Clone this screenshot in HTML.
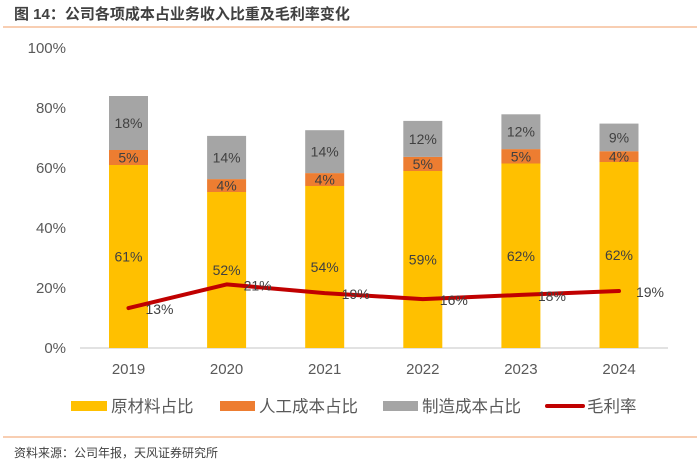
<!DOCTYPE html>
<html><head><meta charset="utf-8">
<style>
body{margin:0;background:#fff;width:700px;height:470px;overflow:hidden;font-family:"Liberation Sans","Noto Sans CJK SC",sans-serif;}
svg text{font-family:"Liberation Sans","Noto Sans CJK SC",sans-serif;}
</style></head>
<body>
<svg id="c" width="700" height="470" xmlns="http://www.w3.org/2000/svg">
<text x="14" y="19" font-size="15" font-weight="bold" fill="#404040">图 14：公司各项成本占业务收入比重及毛利率变化</text>
<line x1="3" y1="27" x2="697" y2="27" stroke="#f4b183" stroke-width="1.2"/>
<g id="plot"></g>
<g>
<rect x="71" y="401" width="36" height="10" fill="#ffc000"/>
<text x="111" y="412" font-size="16.5" fill="#595959">原材料占比</text>
<rect x="220" y="401" width="35" height="10" fill="#ed7d31"/>
<text x="259" y="412" font-size="16.5" fill="#595959">人工成本占比</text>
<rect x="383" y="401" width="35" height="10" fill="#a5a5a5"/>
<text x="422" y="412" font-size="16.5" fill="#595959">制造成本占比</text>
<line x1="547" y1="406" x2="583" y2="406" stroke="#c00000" stroke-width="4" stroke-linecap="round"/>
<text x="587" y="412" font-size="16.5" fill="#595959">毛利率</text>
</g>
<line x1="3" y1="437" x2="697" y2="437" stroke="#f4b183" stroke-width="1.2"/>
<text x="14" y="457" font-size="12" fill="#404040">资料来源：公司年报，天风证券研究所</text>
</svg>
<script>
const years=["2019","2020","2021","2022","2023","2024"];
const rawMat=[61,52,54,59,61.5,62];
const labor=[5,4.3,4.3,4.7,4.8,3.6];
const mfg=[18,14.4,14.3,12,11.6,9.2];
const margin=[13.3,21.2,18.3,16.3,17.7,19];
const rawLbl=["61%","52%","54%","59%","62%","62%"];
const laborLbl=["5%","4%","4%","5%","5%","4%"];
const mfgLbl=["18%","14%","14%","12%","12%","9%"];
const marginLbl=["13%","21%","19%","16%","18%","19%"];
const yTicks=[0,20,40,60,80,100];

const NS="http://www.w3.org/2000/svg";
const g=document.getElementById('plot');
const y0=348,yScale=3,x0=128.5,step=98.1,bw=39;
const Y=v=>y0-v*yScale, X=i=>x0+i*step;
function mk(t,a){const e=document.createElementNS(NS,t);for(const k in a)e.setAttribute(k,a[k]);g.appendChild(e);return e;}
yTicks.forEach(v=>{
 const t=mk('text',{x:66,y:Y(v)+5,'font-size':15,fill:'#595959','text-anchor':'end'});
 t.textContent=v+'%';
 
 
});
const ax=mk('line',{x1:80,y1:y0,x2:668,y2:y0,stroke:'#d9d9d9','stroke-width':1.5});


years.forEach((yr,i)=>{
 const cx=X(i);
 const segs=[[rawMat[i],'#ffc000',rawLbl[i],'bar-raw'],[labor[i],'#ed7d31',laborLbl[i],'bar-labor'],[mfg[i],'#a5a5a5',mfgLbl[i],'bar-mfg']];
 let base=0;
 segs.forEach(s=>{
  const top=base+s[0];
  const r=mk('rect',{x:cx-bw/2,y:Y(top),width:bw,height:Y(base)-Y(top),fill:s[1]});
  
  
  base=top;
 });
 base=0;
 segs.forEach(s=>{
  const mid=base+s[0]/2;base+=s[0];
  const t=mk('text',{x:cx,y:Y(mid)+5,'font-size':14,fill:'#404040','text-anchor':'middle'});
  t.textContent=s[2];
  
  
 });
 const xl=mk('text',{x:cx,y:374,'font-size':15,fill:'#595959','text-anchor':'middle'});
 xl.textContent=yr;
 
 
});
const pts=margin.map((v,i)=>X(i)+','+Y(v)).join(' ');
const pl=mk('polyline',{points:pts,fill:'none',stroke:'#c00000','stroke-width':4,'stroke-linejoin':'round','stroke-linecap':'round'});


margin.forEach((v,i)=>{
 const t=mk('text',{x:X(i)+31,y:Y(v)+6,'font-size':14,fill:'#404040','text-anchor':'middle'});
 t.textContent=marginLbl[i];
 
 
});
</script>
</body></html>
